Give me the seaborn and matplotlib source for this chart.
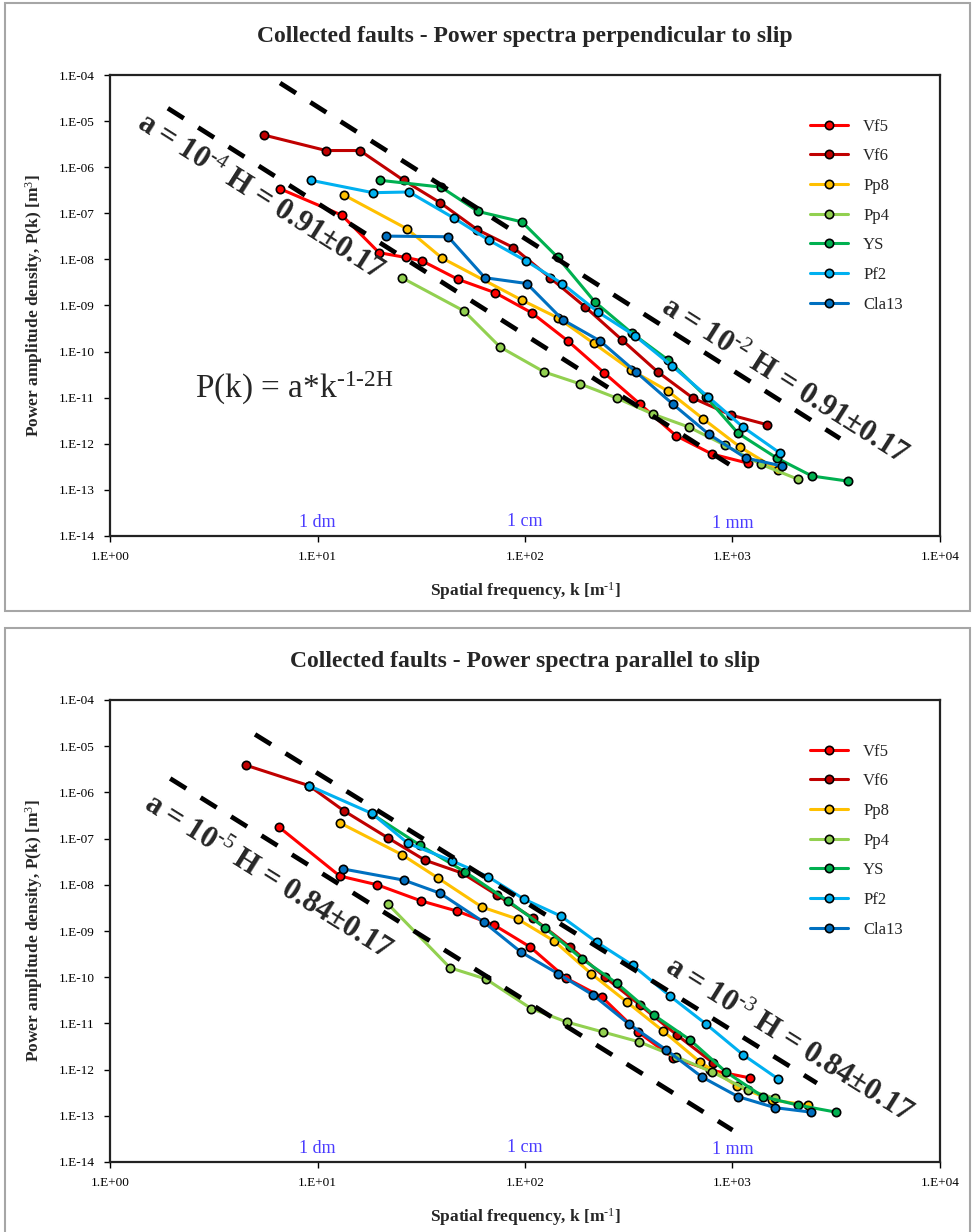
import numpy as np
import pandas as pd
import matplotlib
matplotlib.use("Agg")
import matplotlib.pyplot as plt
from matplotlib.ticker import FuncFormatter, LogLocator, NullLocator
from matplotlib.patches import Rectangle
import seaborn as sns

# ─── data ───────────────────────────────────────────────────────
samples = ["Vf5", "Vf6", "Pp8", "Pp4", "YS", "Pf2", "Cla13"]
colors = ["#ff0000", "#c00000", "#ffc000", "#92d050", "#00b050", "#00b0f0", "#0070c0"]

# perpendicular to slip
perp_vf5_k = [6.6, 13.1, 19.8, 26.7, 31.9, 47.5, 71.7, 108, 161, 240, 358, 534, 796, 1188]
perp_vf5_p = [3.4e-7, 9.1e-8, 1.4e-8, 1.1e-8, 9.3e-9, 3.7e-9, 1.9e-9, 6.9e-10, 1.7e-10, 3.5e-11, 7.3e-12, 1.5e-12, 6.0e-13, 3.8e-13]
perp_vf6_k = [5.5, 11, 16, 26, 39, 59, 88, 132, 195, 293, 437, 645, 984, 1466]
perp_vf6_p = [5.0e-6, 2.3e-6, 2.3e-6, 5.2e-7, 1.7e-7, 4.4e-8, 1.8e-8, 4.0e-9, 9.3e-10, 1.8e-10, 3.6e-11, 9.8e-12, 4.2e-12, 2.6e-12]
perp_pp8_k = [13.4, 27.0, 39.8, 96.8, 144, 215, 324, 488, 721, 1087, 1657]
perp_pp8_p = [2.5e-7, 4.6e-8, 1.07e-8, 1.3e-9, 5.4e-10, 1.5e-10, 4.0e-11, 1.4e-11, 3.5e-12, 8.5e-13, 2.7e-13]
perp_pp4_k = [25.5, 50.8, 75.8, 124, 184, 277, 414, 617, 920, 1371, 2069]
perp_pp4_p = [4.0e-9, 7.6e-10, 1.26e-10, 3.6e-11, 2.0e-11, 9.8e-12, 4.4e-12, 2.3e-12, 9.3e-13, 3.6e-13, 1.7e-13]
perp_ys_k = [20.0, 39.4, 59.3, 96.8, 144, 217, 328, 489, 745, 1063, 1637, 2416, 3603]
perp_ys_p = [5.2e-7, 3.7e-7, 1.1e-7, 6.5e-8, 1.1e-8, 1.2e-9, 2.5e-10, 6.6e-11, 1.05e-11, 1.7e-12, 4.9e-13, 2.0e-13, 1.55e-13]
perp_pf2_k = [9.3, 18.5, 27.6, 45.4, 67.1, 101, 151, 225, 339, 511, 762, 1124, 1694]
perp_pf2_p = [5.2e-7, 2.8e-7, 2.9e-7, 7.9e-8, 2.6e-8, 9.3e-9, 3.0e-9, 7.2e-10, 2.2e-10, 4.9e-11, 1.05e-11, 2.3e-12, 6.3e-13]
perp_cla13_k = [21.4, 42.6, 64.1, 102, 152, 230, 343, 517, 771, 1161, 1732]
perp_cla13_p = [3.2e-8, 3.1e-8, 4.0e-9, 3.0e-9, 4.9e-10, 1.7e-10, 3.6e-11, 7.2e-12, 1.6e-12, 4.9e-13, 3.3e-13]

# parallel to slip
par_vf5_k = [6.5, 12.8, 19.4, 31.5, 47.0, 70.9, 106, 158, 235, 351, 517, 779, 1214]
par_vf5_p = [1.8e-7, 1.55e-8, 1.0e-8, 4.5e-9, 2.7e-9, 1.35e-9, 4.5e-10, 9.5e-11, 3.7e-11, 6.5e-12, 1.8e-12, 9.8e-13, 6.6e-13]
par_vf6_k = [4.5, 9.1, 13.4, 21.9, 33.0, 49.7, 73.3, 109, 165, 243, 358, 540, 806]
par_vf6_p = [3.9e-6, 1.4e-6, 4.0e-7, 1.03e-7, 3.4e-8, 1.8e-8, 6.0e-9, 1.9e-9, 4.5e-10, 1.0e-10, 2.5e-11, 5.6e-12, 1.4e-12]
par_pp8_k = [12.8, 25.5, 38.1, 62.0, 92.5, 138, 208, 310, 462, 697, 1051, 1549, 2312]
par_pp8_p = [2.2e-7, 4.5e-8, 1.4e-8, 3.3e-9, 1.8e-9, 6.1e-10, 1.2e-10, 2.9e-11, 6.9e-12, 1.46e-12, 4.4e-13, 2.2e-13, 1.7e-13]
par_pp4_k = [21.9, 43.5, 64.9, 107, 159, 238, 354, 534, 796, 1188, 1603]
par_pp4_p = [3.8e-9, 1.6e-10, 9.1e-11, 2.1e-11, 1.07e-11, 6.5e-12, 4.0e-12, 1.9e-12, 8.9e-13, 3.6e-13, 2.4e-13]
par_ys_k = [18.3, 31.2, 51.4, 82.8, 125, 188, 277, 419, 624, 930, 1403, 2069, 3155]
par_ys_p = [3.4e-7, 7.2e-8, 1.9e-8, 4.5e-9, 1.16e-9, 2.5e-10, 7.4e-11, 1.5e-11, 4.4e-12, 8.9e-13, 2.6e-13, 1.7e-13, 1.2e-13]
par_pf2_k = [9.1, 18.3, 27.3, 44.5, 66.3, 98.9, 149, 222, 331, 500, 745, 1124, 1657]
par_pf2_p = [1.4e-6, 3.5e-7, 7.9e-8, 3.3e-8, 1.5e-8, 4.9e-9, 2.1e-9, 5.7e-10, 1.8e-10, 3.9e-11, 9.7e-12, 2.1e-12, 6.3e-13]
par_cla13_k = [13.3, 26.1, 38.9, 63.4, 95.6, 144, 213, 317, 478, 713, 1063, 1603, 2389]
par_cla13_p = [2.2e-8, 1.26e-8, 6.6e-9, 1.55e-9, 3.5e-10, 1.2e-10, 4.1e-11, 9.7e-12, 2.7e-12, 6.9e-13, 2.6e-13, 1.5e-13, 1.2e-13]

# dashed reference lines P(k) = a*k^(-1-2H), end points
perp_guide_low_k = [1.9, 972]
perp_guide_low_p = [1.9e-5, 3.5e-13]
perp_guide_up_k = [6.6, 3300]
perp_guide_up_p = [6.7e-5, 1.3e-12]
par_guide_low_k = [1.95, 1000]
par_guide_low_p = [2.0e-6, 4.9e-14]
par_guide_up_k = [5.0, 2550]
par_guide_up_p = [1.8e-5, 5.1e-13]

scale_k = [10, 100, 1000]
scale_labels = ["1 dm", "1 cm", "1 mm"]


def to_frame(series):
    rows = []
    for name, (k, p) in zip(samples, series):
        for i, (kk, pp) in enumerate(zip(k, p)):
            rows.append((name, i, kk, pp))
    return pd.DataFrame(rows, columns=["sample", "idx", "k", "P"])


perp_df = to_frame([(perp_vf5_k, perp_vf5_p), (perp_vf6_k, perp_vf6_p), (perp_pp8_k, perp_pp8_p),
                    (perp_pp4_k, perp_pp4_p), (perp_ys_k, perp_ys_p), (perp_pf2_k, perp_pf2_p),
                    (perp_cla13_k, perp_cla13_p)])
par_df = to_frame([(par_vf5_k, par_vf5_p), (par_vf6_k, par_vf6_p), (par_pp8_k, par_pp8_p),
                   (par_pp4_k, par_pp4_p), (par_ys_k, par_ys_p), (par_pf2_k, par_pf2_p),
                   (par_cla13_k, par_cla13_p)])

# ─── style ──────────────────────────────────────────────────────
sns.set_theme(style="ticks")
plt.rcParams["font.family"] = ["Liberation Serif", "DejaVu Serif"]
plt.rcParams["mathtext.fontset"] = "custom"
plt.rcParams["mathtext.rm"] = "Liberation Serif"
plt.rcParams["mathtext.default"] = "regular"


def exp_label(v, pos):
    e = int(round(np.log10(v)))
    return f"1.E{e:+03d}"


def draw_panel(ax, df, title, guides, notes):
    for gk, gp in guides:
        ax.plot(gk, gp, color="black", lw=3.4, ls=(0, (4.0, 3.6)), zorder=4)

    sns.lineplot(data=df, x="k", y="P", hue="sample", hue_order=samples, palette=colors,
                 units="sample", estimator=None, sort=False, marker="o", markersize=6,
                 markeredgecolor="black", markeredgewidth=1.2, linewidth=2.2, ax=ax, zorder=3)

    ax.set_xscale("log")
    ax.set_yscale("log")
    ax.set_xlim(1, 1e4)
    ax.set_ylim(1e-14, 1e-4)
    ax.xaxis.set_major_locator(LogLocator(base=10, numticks=10))
    ax.yaxis.set_major_locator(LogLocator(base=10, numticks=20))
    ax.xaxis.set_minor_locator(NullLocator())
    ax.yaxis.set_minor_locator(NullLocator())
    ax.xaxis.set_major_formatter(FuncFormatter(exp_label))
    ax.yaxis.set_major_formatter(FuncFormatter(exp_label))
    ax.tick_params(axis="both", direction="out", length=4, width=1, labelsize=9.5, pad=7, colors="black")
    for side in ["left", "bottom", "top", "right"]:
        ax.spines[side].set_visible(True)
        ax.spines[side].set_color("#222222")
        ax.spines[side].set_linewidth(1.6)

    ax.set_title(title, fontsize=17, fontweight="bold", pad=24)
    ax.set_xlabel(r"Spatial frequency, k [m$^{\text{-1}}$]", fontsize=12.5, fontweight="bold", labelpad=12)
    ax.set_ylabel(r"Power amplitude density, P(k) [m$^{\text{3}}$]", fontsize=12.5, fontweight="bold", labelpad=10)

    for txt, (xx, yy), rot in notes:
        ax.text(xx, yy, txt, fontsize=22, fontweight="bold", rotation=rot, rotation_mode="anchor",
                ha="center", va="center", zorder=5)

    for kk, lab, yy in zip(scale_k, scale_labels, [2.0e-14, 2.1e-14, 1.9e-14]):
        ax.text(kk, yy, lab, color="#4b3cff", fontsize=13, ha="center", va="center")

    ax.legend(loc="upper left", bbox_to_anchor=(0.835, 0.92), frameon=False, fontsize=12,
              handlelength=2.3, labelspacing=0.82, handletextpad=0.9, borderaxespad=0)


fig = plt.figure(figsize=(9.73, 12.32), dpi=100, facecolor="white")
ax1 = fig.add_axes([110 / 973, 1 - 536 / 1232, 830 / 973, 461 / 1232])
ax2 = fig.add_axes([110 / 973, 1 - 1162 / 1232, 830 / 973, 462 / 1232])

draw_panel(ax1, perp_df, "Collected faults - Power spectra perpendicular to slip",
           [(perp_guide_low_k, perp_guide_low_p), (perp_guide_up_k, perp_guide_up_p)],
           [(r"a = 10$^{\text{-4}}$ H = 0.91±0.17", (5.3, 2.2e-7), -32.4),
            (r"a = 10$^{\text{-2}}$ H = 0.91±0.17", (1760, 2.2e-11), -32.4)])
ax1.text(2.57, 1.6e-11, r"P(k) = a*k$^{\text{-1-2H}}$", fontsize=24, ha="left", va="center")

draw_panel(ax2, par_df, "Collected faults - Power spectra parallel to slip",
           [(par_guide_low_k, par_guide_low_p), (par_guide_up_k, par_guide_up_p)],
           [(r"a = 10$^{\text{-5}}$ H = 0.84±0.17", (5.7, 1.4e-8), -32.0),
            (r"a = 10$^{\text{-3}}$ H = 0.84±0.17", (1850, 4.2e-12), -32.0)])

# grey panel frames
fig.add_artist(Rectangle((5 / 973, 1 - 611 / 1232), 965 / 973, 608 / 1232, transform=fig.transFigure,
                         fill=False, ec="#a6a6a6", lw=1.5))
fig.add_artist(Rectangle((5 / 973, -0.01), 965 / 973, (1232 - 628) / 1232 + 0.01, transform=fig.transFigure,
                         fill=False, ec="#a6a6a6", lw=1.5))

fig.savefig("out.png", dpi=100, facecolor="white")
